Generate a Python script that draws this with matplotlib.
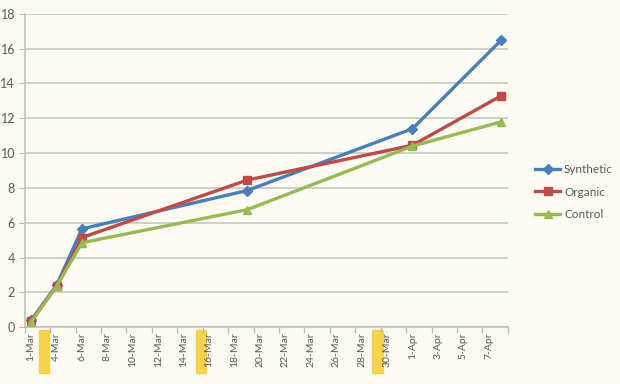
import matplotlib
matplotlib.use("Agg")
import matplotlib.pyplot as plt
import pandas as pd
from matplotlib.patches import Rectangle
import matplotlib.transforms as mtransforms

# ---- data ----
dates = ["2025-03-02", "2025-03-04", "2025-03-06", "2025-03-19", "2025-04-01", "2025-04-08"]
synthetic = [0.4, 2.4, 5.65, 7.85, 11.4, 16.5]
organic = [0.35, 2.35, 5.15, 8.45, 10.45, 13.3]
control = [0.3, 2.35, 4.85, 6.75, 10.4, 11.8]
tick_labels = ["1-Mar", "4-Mar", "6-Mar", "8-Mar", "10-Mar", "12-Mar", "14-Mar", "16-Mar",
               "18-Mar", "20-Mar", "22-Mar", "24-Mar", "26-Mar", "28-Mar", "30-Mar",
               "1-Apr", "3-Apr", "5-Apr", "7-Apr"]
y_ticks = [0, 2, 4, 6, 8, 10, 12, 14, 16, 18]

plt.rcParams['font.family'] = ['Lato', 'DejaVu Sans']

d = pd.to_datetime(dates)
x = (d - d[0]).days.values.astype(float)
tick_pos = [2 * i for i in range(len(tick_labels))]

bg = "#fbfbf3"
fig = plt.figure(figsize=(6.2, 3.84), dpi=100, facecolor=bg)
ax = fig.add_axes([0.040, 0.148, 0.779, 0.816], facecolor=bg)

ax.set_xlim(-0.5, 37.5)
ax.set_ylim(0, 18)
ax.set_yticks(y_ticks)
ax.yaxis.grid(True, color="#c4c4c0", linewidth=1.1)
ax.set_axisbelow(True)

ax.set_xticks(tick_pos)
ax.set_xticklabels(tick_labels, rotation=90, fontsize=7.5, color="#595959")
ax.set_xticks([-0.5 + 2 * i for i in range(len(tick_labels) + 1)], minor=True)
ax.tick_params(axis='x', which='major', length=0, pad=4)
ax.tick_params(axis='x', which='minor', length=4, color="#bdbdb8", width=1)
ax.tick_params(axis='y', length=4, color="#bdbdb8", labelsize=9, labelcolor="#595959", pad=3)

for s in ["top", "right"]:
    ax.spines[s].set_visible(False)
ax.spines["left"].set_color("#bdbdb8")
ax.spines["bottom"].set_color("#bdbdb8")
ax.spines["left"].set_linewidth(1.1)
ax.spines["bottom"].set_linewidth(1.1)

ax.plot(x, synthetic, color="#4a7ebb", linewidth=2.4, marker="D", markersize=5, label="Synthetic", clip_on=False, zorder=3)
ax.plot(x, organic, color="#be4b48", linewidth=2.4, marker="s", markersize=6, label="Organic", clip_on=False, zorder=3)
ax.plot(x, control, color="#98b954", linewidth=2.4, marker="^", markersize=6, label="Control", clip_on=False, zorder=4)

# yellow highlighter marks under the axis
trans = mtransforms.blended_transform_factory(ax.transData, ax.transAxes)
for cx in [1.0, 13.35, 27.25]:
    ax.add_patch(Rectangle((cx - 0.4, -0.145), 0.8, 0.135, transform=trans,
                           color="#f5cf3a", clip_on=False, zorder=0, alpha=0.9))

fig.legend(loc="center left", bbox_to_anchor=(0.845, 0.50), frameon=False,
           fontsize=8.5, labelcolor="#595959", handlelength=2.2, handletextpad=0.3,
           labelspacing=1.0)

fig.savefig("out.png", dpi=100, facecolor=bg)
